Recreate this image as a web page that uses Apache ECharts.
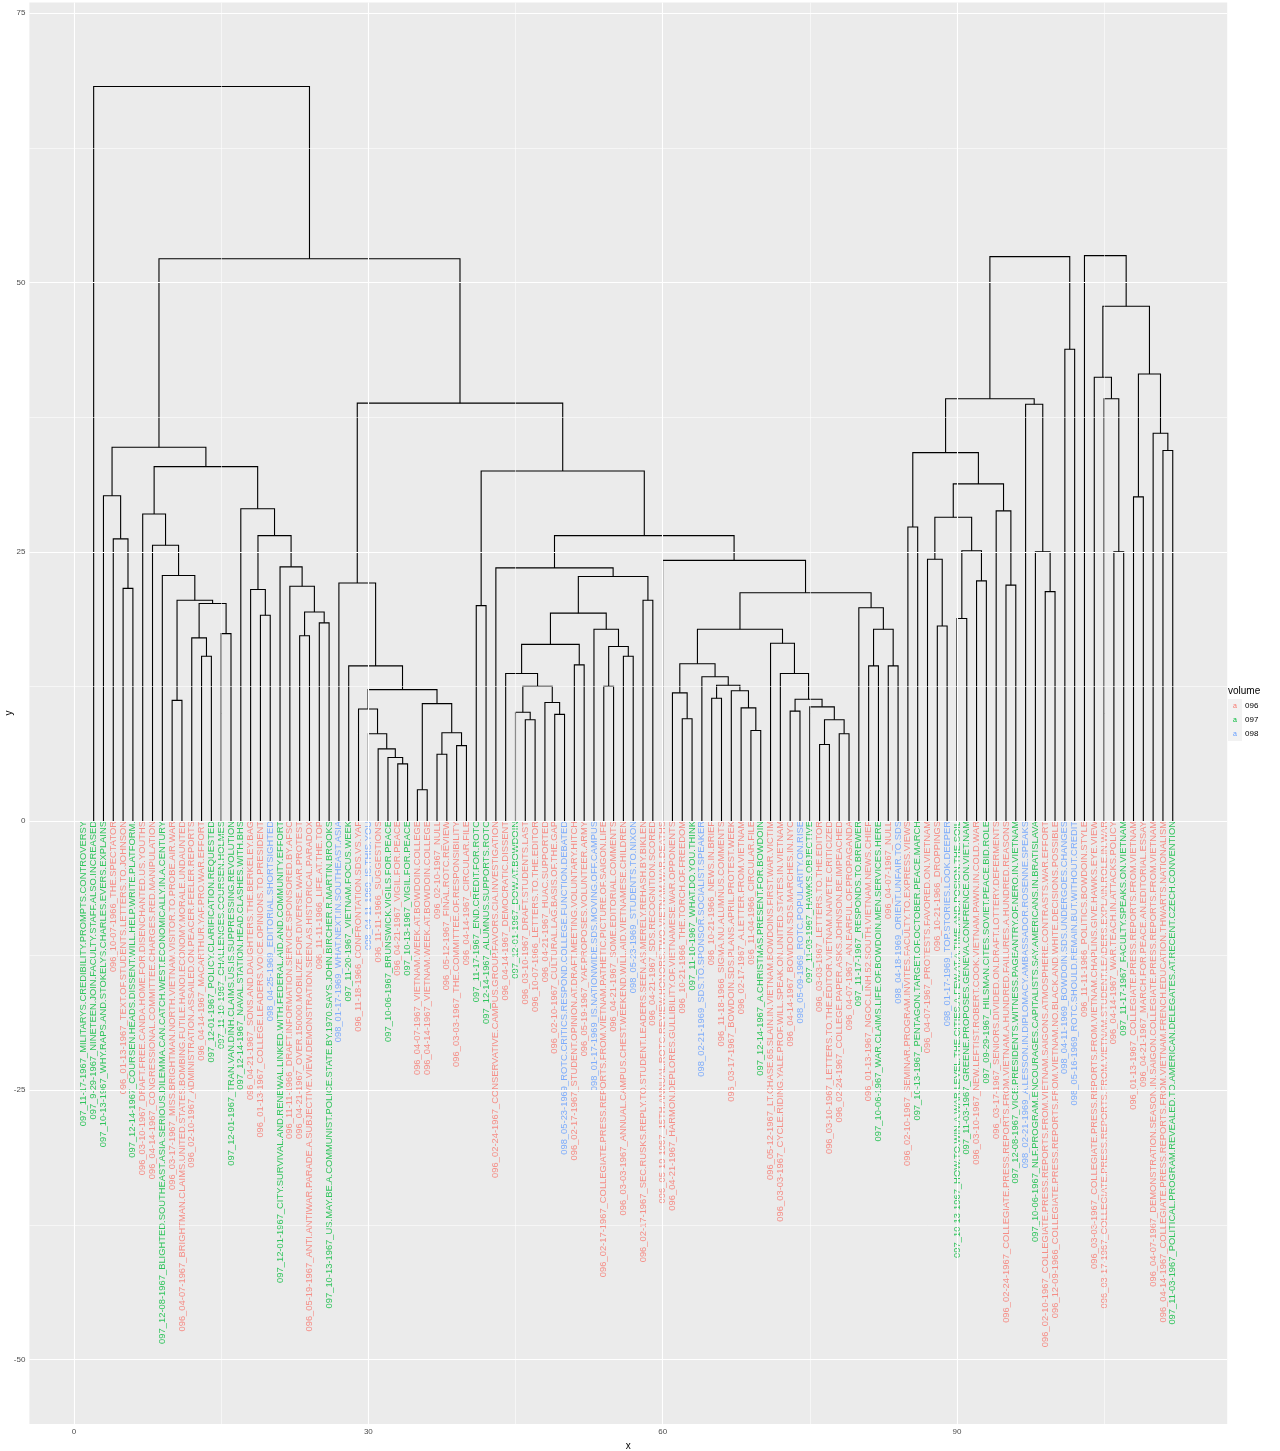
<!DOCTYPE html>
<html>
<head>
<meta charset="utf-8">
<script src="https://cdn.jsdelivr.net/npm/echarts@6/dist/echarts.min.js"></script>
<style>
  html, body { margin: 0; padding: 0; background: #fff; }
  #chart { width: 1280px; height: 1451px; }
</style>
</head>
<body>
<div id="chart"></div>
<script>
// leaf labels, in plotting order (leaf i sits at x = i)
const labels = [
  "097_11-17-1967_MILITARYS.CREDIBILITY.PROMPTS.CONTROVERSY",
  "097_9-29-1967_NINETEEN.JOIN.FACULTY.STAFF.ALSO.INCREASED",
  "097_10-13-1967_WHY.RAPS.AND.STOKELYS.CHARLES.EVERS.EXPLAINS",
  "096_10-07-1966_THE.SPECTATOR",
  "096_01-13-1967_TEXT.OF.STUDENTS.LETTERS.TO.JOHNSON",
  "097_12-14-1967_COURSEN.HEADS.DISSENT.WILL.HELP.WRITE.PLATFORM.",
  "096_03-10-1967_DRAFT.FREE.CANDA.HOME.FOR.DISENCHANTED.US.YOUTHS",
  "096_04-14-1967_CONGRESSIONAL.COMMITTEE.CHARGES.RED.MANIPULATION",
  "097_12-08-1967_BLIGHTED.SOUTHEAST.ASIA.SERIOUS.DILEMMA.CAN.CATCH.WEST.ECONOMICALLY.IN.A.CENTURY",
  "096_03-17-1967_MISS.BRIGHTMAN.NORTH.VIETNAM.VISITOR.TO.PROBE.AIR.WAR",
  "096_04-07-1967_BRIGHTMAN.CLAIMS.UNITED.STATES.BOMBING.FUTILE.HANOI.ECONOMY.MORALE.UNDAUNTED",
  "096_02-10-1967_ADMINISTRATION.ASSAILED.ON.PEACER.FEELER.REPORTS",
  "096_04-14-1967_MACARTHUR.YAF.PRO.WAR.EFFORT",
  "097_12-01-1967_POLICY.CLARIFICATION.REQUESTED",
  "097_11-10-1967_CHALLENGES.COURSEN.HOLMES",
  "097_12-01-1967_TRAN.VAN.DINH.CLAIMS.US.IS.SUPPRESSING.REVOLUTION",
  "097_12-14-1967_NAVAL.STATION.HEAD.CLASHES.WITH.BHS",
  "096_04-21-1967_SONS.AND.DAUGHTERS.THE.BERKELEY.BAG",
  "096_01-13-1967_COLLEGE.LEADERS.VOICE.OPINIONS.TO.PRESIDENT",
  "098_04-25-1969_EDITORIAL.SHORTSIGHTED",
  "097_12-01-1967_CITY.SURVIVAL.AND.RENEWAL.LINKED.WITH.FEDERAL.AID.AND.COMMUNITY.EFFORT",
  "096_11-11-1966_DRAFT.INFORMATION.SERVICE.SPONSORED.BY.AFSC",
  "096_04-21-1967_OVER.150000.MOBILIZE.FOR.DIVERSE.WAR.PROTEST",
  "096_05-19-1967_ANTI.ANTIWAR.PARADE.A.SUBJECTIVE.VIEW.DEMONSTRATION.SEEN.AS.HISTORICAL.PARADOX",
  "096_11-11-1966_LIFE.AT.THE.TOP",
  "097_10-13-1967_US.MAY.BE.A.COMMUNIST.POLICE.STATE.BY.1970.SAYS.JOHN.BIRCHER.R.MARTIN.BROOKS",
  "098_01-17-1969_WHAT.NEXT.IN.SOUTHEAST.ASIA",
  "097_11-20-1967_VIETNAM.FOCUS.WEEK",
  "096_11-18-1966_CONFRONTATION.SDS.VS.YAF",
  "098_04-11-1969_IS.THIS.YOU",
  "096_11-11-1966_SUGGESTIONS",
  "097_10-06-1967_BRUNSWICK.VIGILS.FOR.PEACE",
  "096_04-21-1967_VIGIL.FOR.PEACE",
  "097_10-13-1967_VIGIL.FOR.PEACE",
  "096_04-07-1967_VIETNAM.WEEK.AT.BOWDOIN.COLLEGE",
  "096_04-14-1967_VIETNAM.WEEK.AT.BOWDOIN.COLLEGE",
  "096_02-10-1967_NULL",
  "096_05-12-1967_FINAL.ROTC.REVIEW",
  "096_03-03-1967_THE.COMMITTEE.OF.RESPONSIBILITY",
  "096_04-14-1967_CIRCULAR.FILE",
  "097_11-17-1967_END.CREDIT.FOR.ROTC",
  "097_12-14-1967_ALUMNUS.SUPPORTS.ROTC",
  "096_02-24-1967_CONSERVATIVE.CAMPUS.GROUP.FAVORS.CIA.INVESTIGATION",
  "096_04-14-1967_DEMOCRATIC.DISSENT",
  "097_12-01-1967_DOW.AT.BOWDOIN",
  "096_03-10-1967_DRAFT.STUDENTS.LAST",
  "096_10-07-1966_LETTERS.TO.THE.EDITOR",
  "096_04-21-1967_HUAC.SUPPORTED",
  "096_02-10-1967_CULTURAL.LAG.BASIS.OF.THE.GAP",
  "098_05-23-1969_ROTC.CRITICS.RESPOND.COLLEGE.FUNCTION.DEBATED",
  "096_02-17-1967_STUDENT.OPINION.AT.DRAFT.MEETING.VOLUNTARY.HITCH",
  "096_05-19-1967_YAF.PROPOSES.VOLUNTEER.ARMY",
  "098_01-17-1969_IS.NATIONWIDE.SDS.MOVING.OFF.CAMPUS",
  "096_02-17-1967_COLLEGIATE.PRESS.REPORTS.FROM.VIETNAM.PATHETIC.PICTURE.OF.SAIGON.LIFE",
  "096_04-21-1967_SOME.EDITORIAL.COMMENTS",
  "096_03-03-1967_ANNUAL.CAMPUS.CHEST.WEEKEND.WILL.AID.VIETNAMESE.CHILDREN",
  "098_05-23-1969_STUDENTS.TO.NIXON",
  "096_02-17-1967_SEC.RUSKS.REPLY.TO.STUDENT.LEADERS.SEEN.AS.MERELY.REHASH.BY.BIKLEN",
  "096_04-21-1967_SDS.RECOGNITION.SCORED",
  "096_05-19-1967_15TH.ANNUAL.ROTC.REVIEW.HONORS.TWO.VIETNAM.WAR.DEATHS",
  "096_04-21-1967_HARMON.DEPLORES.GULLIBILITY.OF.VIETNAMESE.WAR.OPPONENTS",
  "096_10-21-1966_THE.TORCH.OF.FREEDOM",
  "097_11-10-1967_WHAT.DO.YOU.THINK",
  "098_02-21-1969_SDS.TO.SPONSOR.SOCIALIST.SPEAKER",
  "096_10-21-1966_NEWS.IN.BRIEF",
  "096_11-18-1966_SIGMA.NU.ALUMNUS.COMMENTS",
  "096_03-17-1967_BOWDOIN.SDS.PLANS.APRIL.PROTEST.WEEK",
  "096_02-17-1967_A.LETTER.FROM.VIETNAM",
  "096_11-04-1966_CIRCULAR.FILE",
  "097_12-14-1967_A.CHRISTMAS.PRESENT.FOR.BOWDOIN",
  "096_05-12-1967_LT.CHASE.65.SLAIN.IN.VIETNAM.BOWDOINS.FIRST.WAR.VICTIM",
  "096_03-03-1967_CYCLE.RIDING.YALE.PROF.WILL.SPEAK.ON.UNITED.STATES.IN.VIETNAM",
  "096_04-14-1967_BOWDOIN.SDS.MARCHES.IN.NYC",
  "098_05-09-1969_ROTC.POPULARITY.ON.RISE",
  "097_11-03-1967_HAWKS.OBJECTIVE",
  "096_03-03-1967_LETTERS.TO.THE.EDITOR",
  "096_03-10-1967_LETTERS.TO.THE.EDITOR.VIETNAM.NAIVETE.CRITICIZED",
  "096_02-24-1967_COLLEGE.PAPER.ASKS.JOHNSON.BE.IMPEACHED",
  "096_04-07-1967_AN.EARFUL.OF.PROPAGANDA",
  "097_11-17-1967_RESPONDS.TO.BREWER",
  "096_01-13-1967_NGOC.LINH.52.SOUTH.VIETNAM.NEWS.CHIEF",
  "097_10-06-1967_WAR.CLAIMS.LIFE.OF.BOWDOIN.MEN.SERVICES.HERE",
  "096_04-07-1967_NULL",
  "098_04-18-1969_ORIENT.UNFAIR.TO.SDS",
  "096_02-10-1967_SEMINAR.PROGRAM.INVITES.FACULTY.TO.EXPRESS.VIEWS",
  "097_10-13-1967_PENTAGON.TARGET.OF.OCTOBER.PEACE.MARCH",
  "096_04-07-1967_PROTESTS.FAVORED.ON.VIETNAM",
  "096_10-21-1966_DROPPINGS",
  "098_01-17-1969_TOP.STORIES.LOOK.DEEPER",
  "097_10-13-1967_HOW.TO.WIN.A.WAR.LEVEL.THE.CITIES.A.FEW.AT.A.TIME.AND.POSION.THE.SOIL",
  "097_11-03-1967_GREENE.PROPOSES.GENEVA.CONFRENCE.ON.VIET.NAM",
  "096_03-10-1967_NEW.LEFTIST.ROBERT.COOK.VIETNAM.PAWN.IN.COLD.WAR",
  "097_09-29-1967_HILSMAN.CITES.SOVIET.PEACE.BID.ROLE",
  "096_03-17-1967_SENIORS.DIVIDED.ON.DRAFT.LOTTERY.DEFERMENTS",
  "096_02-24-1967_COLLEGIATE.PRESS.REPORTS.FROM.VIETNAM.A.HUNDRED.FAILURES.A.HUNDRED.REASONS",
  "097_12-08-1967_VICE.PRESIDENTS.WITNESS.PAGEANTRY.OF.NERO.IN.VIETNAM",
  "098_02-21-1969_A.LESSON.IN.DIPLOMACY.AMBASSADOR.ROSENNE.SPEAKS",
  "097_10-06-1967_NLF.PROGRAM.ENCOURAGES.CAPITALISTS.SAY.AMERICANS.IN.BRATISLAVA",
  "096_02-10-1967_COLLEGIATE.PRESS.REPORTS.FROM.VIETNAM.SAIGONS.ATMOSPHERE.CONTRASTS.WAR.EFFORT",
  "096_12-09-1966_COLLEGIATE.PRESS.REPORTS.FROM.VIETNAM.NO.BLACK.AND.WHITE.DECISIONS.POSSIBLE",
  "098_04-11-1969_BOWDOIN.SDS.UNDERGOES.CHANGES",
  "098_05-16-1969_ROTC.SHOULD.REMAIN.BUT.WITHOUT.CREDIT",
  "096_11-11-1966_POLITICS.BOWDOIN.STYLE",
  "096_03-03-1967_COLLEGIATE.PRESS.REPORTS.FROM.VIETNAM.CHAPLINS.GIVE.HAWKS.EYE.VIEW",
  "096_03-17-1967_COLLEGIATE.PRESS.REPORTS.FROM.VIETNAM.STUDENT.LEADERS.EXPLAIN.ROLE.IN.WAR",
  "096_04-14-1967_WAR.TEACH.IN.ATTACKS.POLICY",
  "097_11-17-1967_FACULTY.SPEAKS.ON.VIETNAM",
  "096_01-13-1967_COLLEGIATE.PRESS.REPORTS.FROM.VIETNAM",
  "096_04-21-1967_MARCH.FOR.PEACE.AN.EDITORIAL.ESSAY",
  "096_04-07-1967_DEMONSTRATION.SEASON.IN.SAIGON.COLLEGIATE.PRESS.REPORTS.FROM.VIETNAM",
  "096_04-14-1967_COLLEGIATE.PRESS.REPORTS.FROM.VIETNAM.FRENCH.EDUCATION.THWARTS.NATIONALISM",
  "097_11-03-1967_POLITICAL.PROGRAM.REVEALED.TO.AMERICAN.DELEGATES.AT.RECENT.CZECH.CONVENTION"
];

// hclust-style merges: negative = leaf position, positive = earlier merge (1-based)
const merges = [
  [-5, -6], [-4, 1], [-3, 2], [-10, -11], [-13, -14], [-12, 5], [-15, -16], [6, 7], [4, 8], [-9, 9],
  [-8, 10], [-7, 11], [-19, -20], [-18, 13], [-23, -24], [-25, -26], [15, 16], [-22, 17], [-21, 18], [14, 19],
  [-17, 20], [12, 21], [3, 22], [-33, -34], [-32, 24], [-31, 25], [-30, 26], [-29, 27], [-35, -36], [-37, -38],
  [-39, -40], [30, 31], [29, 32], [28, 33], [-28, 34], [-27, 35], [-41, -42], [-46, -47], [-45, 38], [-49, -50],
  [-48, 40], [39, 41], [-44, 42], [-51, -52], [43, 44], [-54, -55], [-56, -57], [46, 47], [-53, 48], [45, 49],
  [-58, -59], [50, 51], [-43, 52], [-62, -63], [-61, 54], [-65, -66], [-69, -70], [-68, 57], [-67, 58], [56, 59],
  [-64, 60], [55, 61], [-73, -74], [-76, -77], [-78, -79], [64, 65], [-75, 66], [63, 67], [-72, 68], [-71, 69],
  [62, 70], [-81, -82], [-83, -84], [72, 73], [-80, 74], [71, 75], [-60, 76], [53, 77], [37, 78], [36, 79],
  [23, 80], [-2, 81],
  [-85, -86], [-88, -89], [-87, 84], [-90, -91], [-92, -93], [86, 87], [85, 88], [-95, -96], [-94, 90], [89, 91],
  [83, 92], [-99, -100], [-98, 94], [-97, 95], [93, 96], [-101, -102], [97, 98],
  [-106, -107], [-105, 100], [-104, 101], [-108, -109], [-111, -112], [-110, 104], [103, 105], [102, 106], [-103, 107]
];
const heights = [
  21.6, 26.2, 30.2, 11.2, 15.3, 17.0, 17.4, 20.2, 20.5, 22.8,
  25.6, 28.5, 19.1, 21.5, 17.2, 18.4, 19.4, 21.8, 23.6, 26.5,
  29.0, 32.9, 34.7, 5.3, 5.9, 6.7, 8.1, 10.4, 2.9, 6.2,
  7.0, 8.2, 10.9, 12.2, 14.4, 22.1, 20.0, 9.4, 10.1, 9.9,
  11.0, 12.5, 13.7, 14.5, 16.4, 12.5, 15.3, 16.2, 17.8, 19.3,
  20.5, 22.7, 23.5, 9.5, 11.9, 11.4, 8.4, 10.5, 12.1, 12.6,
  13.4, 14.6, 10.2, 7.1, 8.1, 9.4, 10.6, 11.3, 13.7, 16.5,
  17.8, 14.4, 14.4, 17.8, 19.8, 21.2, 24.2, 26.5, 32.5, 38.8,
  52.2, 68.2,
  27.3, 18.1, 24.3, 18.8, 22.3, 25.1, 28.2, 21.9, 28.8, 31.3,
  34.2, 21.3, 25.0, 38.7, 39.2, 43.8, 52.4,
  25.0, 39.2, 41.2, 30.1, 34.4, 36.0, 41.5, 47.8, 52.5
];

const volumes = ["096", "097", "098"];
const volumeColors = ["#F8766D", "#00BA38", "#619CFF"];
const xTicks = [0, 30, 60, 90];
const xMinorTicks = [15, 45, 75, 105];
const yTicks = [-50, -25, 0, 25, 50, 75];
const yMinorTicks = [-37.5, -12.5, 12.5, 37.5, 62.5];

const FONT = "Liberation Sans, Arial, sans-serif";

// node x = midpoint of its two children
const nodeX = [];
const xOf = (ref) => (ref < 0 ? -ref : nodeX[ref - 1]);
const hOf = (ref) => (ref < 0 ? 0 : heights[ref - 1]);
merges.forEach((m, i) => { nodeX[i] = (xOf(m[0]) + xOf(m[1])) / 2; });
const links = merges.map((m, i) => [xOf(m[0]), hOf(m[0]), xOf(m[1]), hOf(m[1]), heights[i]]);

const gridLines = [
  ...yTicks.map((v) => ({ yAxis: v, lineStyle: { width: 1.1 } })),
  ...yMinorTicks.map((v) => ({ yAxis: v, lineStyle: { width: 0.55 } })),
  ...xTicks.map((v) => ({ xAxis: v, lineStyle: { width: 1.1 } })),
  ...xMinorTicks.map((v) => ({ xAxis: v, lineStyle: { width: 0.55 } }))
];

const labelSeries = volumes.map((v, k) => ({
  type: "scatter",
  name: v,
  z: 4,
  symbolSize: 0.1,
  itemStyle: { color: "transparent" },
  silent: true,
  data: labels.map((t, i) => [i + 1, 0, t]).filter((d) => d[2].slice(0, 3) === v),
  label: {
    show: true,
    position: "inside",
    rotate: 90,
    align: "right",
    verticalAlign: "middle",
    offset: [0, 2],
    formatter: (p) => p.value[2],
    color: volumeColors[k],
    fontFamily: FONT,
    fontSize: 9.4
  },
  labelLayout: { hideOverlap: false }
}));

const chart = echarts.init(document.getElementById("chart"), null, { renderer: "canvas" });
chart.setOption({
  animation: false,
  backgroundColor: "#ffffff",
  textStyle: { fontFamily: FONT },
  grid: {
    left: 29.4, right: 52.8, top: 2.5, bottom: 26.9,
    outerBoundsMode: "none",
    containLabel: false,
    show: true, backgroundColor: "#EBEBEB", borderWidth: 0
  },
  title: {
    text: "volume",
    left: 1228, top: 686,
    padding: 0,
    textStyle: { fontFamily: FONT, fontSize: 10, fontWeight: "normal", color: "#000" }
  },
  // y axis title, placed by hand so it is not pushed off the page
  graphic: [{
    type: "text",
    x: 9, y: 713,
    rotation: Math.PI / 2,
    style: { text: "y", fontFamily: FONT, fontSize: 10, fill: "#000", align: "center", verticalAlign: "middle" }
  }],
  legend: {
    data: volumes,
    orient: "vertical",
    left: 1223, top: 699,
    padding: 0,
    icon: "none",
    itemWidth: 0, itemHeight: 14, itemGap: 0,
    selectedMode: false,
    formatter: (name) => "{k" + name + "|a}{t|" + name + "}",
    textStyle: {
      fontFamily: FONT,
      rich: {
        k096: { color: volumeColors[0], backgroundColor: "#F2F2F2", width: 14, height: 14, lineHeight: 14, align: "center", fontSize: 7 },
        k097: { color: volumeColors[1], backgroundColor: "#F2F2F2", width: 14, height: 14, lineHeight: 14, align: "center", fontSize: 7 },
        k098: { color: volumeColors[2], backgroundColor: "#F2F2F2", width: 14, height: 14, lineHeight: 14, align: "center", fontSize: 7 },
        t: { color: "#000", fontSize: 8, padding: [0, 0, 0, 3] }
      }
    }
  },
  xAxis: {
    type: "value", min: -4.55, max: 117.55,
    name: "x", nameLocation: "middle", nameGap: 14,
    nameTextStyle: { color: "#000", fontSize: 10, fontFamily: FONT },
    axisLine: { show: false },
    axisTick: { show: true, customValues: xTicks, length: 3, lineStyle: { color: "#333333" } },
    axisLabel: { customValues: xTicks, color: "#4D4D4D", fontSize: 8, margin: 4, fontFamily: FONT },
    splitLine: { show: false }
  },
  yAxis: {
    type: "value", min: -56, max: 76,
    axisLine: { show: false },
    axisTick: { show: true, customValues: yTicks, length: 3, lineStyle: { color: "#333333" } },
    axisLabel: { customValues: yTicks, color: "#4D4D4D", fontSize: 8, margin: 4, fontFamily: FONT },
    splitLine: { show: false }
  },
  series: [
    {
      type: "line",
      name: "grid",
      data: [],
      z: 1,
      silent: true,
      markLine: {
        silent: true,
        symbol: ["none", "none"],
        label: { show: false },
        lineStyle: { color: "#ffffff", type: "solid" },
        data: gridLines
      }
    },
    {
      type: "custom",
      name: "tree",
      z: 3,
      silent: true,
      dimensions: ["x1", "h1", "x2", "h2", "h"],
      encode: { x: [0, 2], y: [1, 3, 4] },
      data: links,
      renderItem: (params, api) => {
        const a = api.coord([api.value(0), api.value(1)]);
        const b = api.coord([api.value(0), api.value(4)]);
        const c = api.coord([api.value(2), api.value(4)]);
        const d = api.coord([api.value(2), api.value(3)]);
        return {
          type: "polyline",
          shape: { points: [a, b, c, d] },
          style: { stroke: "#000000", lineWidth: 1.1, fill: null }
        };
      }
    },
    ...labelSeries
  ]
});
</script>
</body>
</html>
